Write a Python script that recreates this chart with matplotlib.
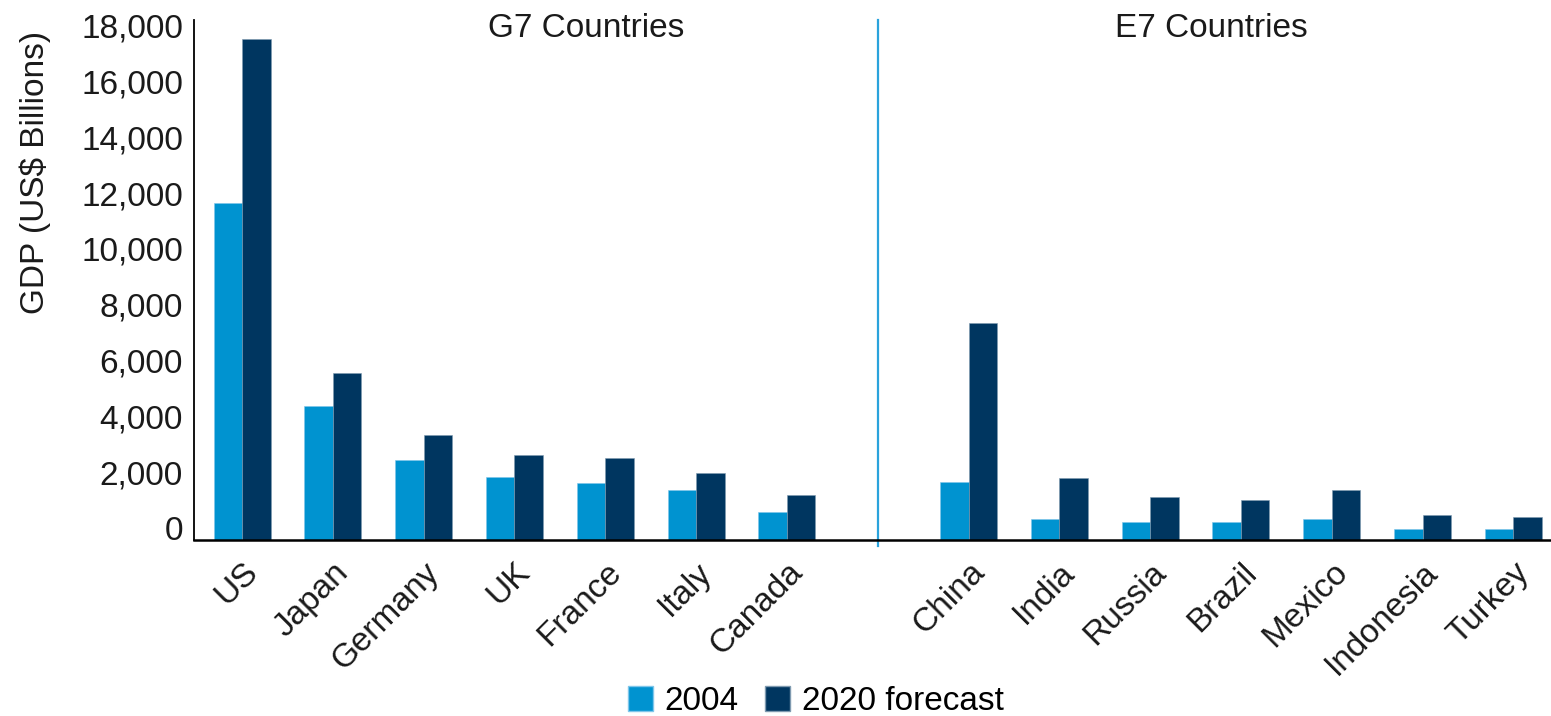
import numpy as np
import matplotlib.pyplot as plt
from matplotlib.patches import Patch

plt.rcParams['font.family'] = ['Liberation Sans', 'DejaVu Sans']
plt.rcParams['ytick.alignment'] = 'baseline'

# GDP in US$ billions
g7 = ['US', 'Japan', 'Germany', 'UK', 'France', 'Italy', 'Canada']
e7 = ['China', 'India', 'Russia', 'Brazil', 'Mexico', 'Indonesia', 'Turkey']
g7_2004 = [12070, 4820, 2870, 2250, 2050, 1790, 990]
g7_2020 = [17950, 5980, 3750, 3040, 2950, 2410, 1610]
e7_2004 = [2070, 740, 630, 630, 740, 380, 380]
e7_2020 = [7770, 2230, 1530, 1430, 1790, 910, 810]

light = '#0093d0'
dark = '#003660'
split_col = '#2aa3dc'

countries = g7 + e7
gdp_2004 = g7_2004 + e7_2004
gdp_2020 = g7_2020 + e7_2020
# one empty slot between the two groups, the divider sits there
x = np.r_[np.arange(len(g7)), np.arange(len(e7)) + len(g7) + 1]
w = 0.314

fig = plt.figure(figsize=(15.51, 7.16), dpi=100)
ax = fig.add_axes([0.1251, 0.2458, 0.875, 0.726])

ax.bar(x - w / 2, gdp_2004, w, color=light, edgecolor='#7fc6ea', linewidth=0.4)
ax.bar(x + w / 2, gdp_2020, w, color=dark, edgecolor='#7f9ab0', linewidth=0.4)

ax.axvline(len(g7), ymin=-0.012, ymax=1, color=split_col, lw=1.6, clip_on=False)

ax.set_xlim(-0.529, 14.416)
ax.set_ylim(0, 18630)
yt = np.arange(0, 18001, 2000)
ax.set_yticks(yt)
ax.set_yticklabels([f'{v:,}' for v in yt])
ax.tick_params(axis='y', length=0, pad=8, labelsize=24, labelcolor='#1a1a1a')
ax.set_xticks(x)
ax.set_xticklabels(countries, rotation=45, ha='right', rotation_mode='anchor')
ax.tick_params(axis='x', length=0, pad=12, labelsize=24, labelcolor='#1a1a1a')

for s in ['top', 'right']:
    ax.spines[s].set_visible(False)
ax.spines['left'].set_linewidth(1.3)
ax.spines['bottom'].set_linewidth(1.8)

ax.text(3.79, 18340, 'G7 Countries', ha='center', va='center', fontsize=24, color='#1a1a1a')
ax.text(10.67, 18340, 'E7 Countries', ha='center', va='center', fontsize=24, color='#1a1a1a')

fig.text(35 / 1551, 1 - 172 / 716, 'GDP (US$ Billions)', rotation=90, ha='center', va='center',
         fontsize=24, color='#1a1a1a')

handles = [Patch(facecolor=light, edgecolor='#7fc6ea'), Patch(facecolor=dark, edgecolor='#7f9ab0')]
fig.legend(handles, ['2004', '2020 forecast'], loc='center', bbox_to_anchor=(0.526, 0.02),
           ncol=2, frameon=False, fontsize=24, handlelength=0.75, handleheight=0.75,
           handletextpad=0.35, columnspacing=0.8, borderpad=0)

fig.savefig('out.png', dpi=100)
